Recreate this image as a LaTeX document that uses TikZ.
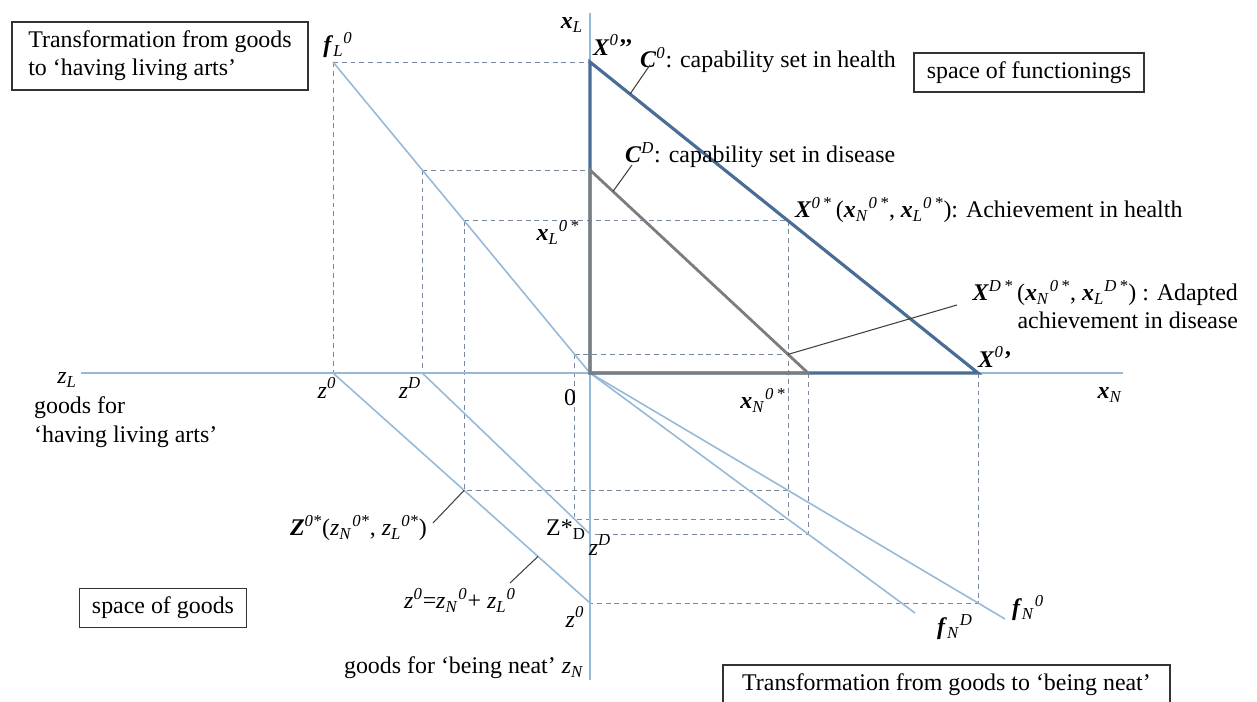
\documentclass[tikz,border=0pt]{standalone}
\usepackage{fontspec}
\setmainfont{Liberation Serif}
\usepackage{tikz}
\usetikzlibrary{calc}
\definecolor{capblue}{RGB}{72,110,150}
\definecolor{capgray}{RGB}{125,125,125}
\definecolor{axblue}{RGB}{150,185,215}
\definecolor{guidegray}{RGB}{120,135,155}
\newcommand{\bv}[1]{\textbf{\textit{#1}}}
\newcommand{\lsub}[1]{\textsubscript{\textit{#1}}}
\newcommand{\lsup}[1]{\textsuperscript{\textit{#1}}}

\begin{document}
\begin{tikzpicture}[
    axisline/.style={axblue, line width=0.9pt},
    thinline/.style={axblue, line width=0.9pt},
    guide/.style={guidegray, line width=0.5pt, dash pattern=on 2.8pt off 2.2pt},
    capzero/.style={capblue, line width=1.8pt},
    capdis/.style={capgray, line width=1.6pt},
    leader/.style={black!75, line width=0.6pt},
    lbl/.style={font=\fontsize{13.6}{16}\selectfont, inner sep=1pt},
    boxlbl/.style={lbl, draw=black!80, line width=0.8pt, inner sep=0pt}]
    \useasboundingbox (-11.8,-6.58) rectangle (13.34,7.46);

    % points of the construction
    \coordinate (O) at (0,0);
    \coordinate (X0pp) at (0,6.22);
    \coordinate (X0p) at (7.76,0);
    \coordinate (CDt) at (0,4.06);
    \coordinate (CDf) at (4.36,0);
    \coordinate (X0s) at (3.96,3.046);
    \coordinate (XDs) at (3.96,0.372);
    \coordinate (fL0) at (-5.14,6.22);
    \coordinate (z0h) at (-5.14,0);
    \coordinate (zDh) at (-3.355,0);
    \coordinate (zDt) at (-3.355,4.06);
    \coordinate (zst) at (-2.517,3.046);
    \coordinate (Z0s) at (-2.517,-2.347);
    \coordinate (zDst) at (-0.307,0.372);
    \coordinate (ZDs) at (-0.307,-2.925);
    \coordinate (z0v) at (0,-4.6);
    \coordinate (zDv) at (0,-3.22);
    \coordinate (N0s) at (3.96,-2.347);
    \coordinate (NDs) at (3.96,-2.925);
    \coordinate (NDf) at (4.36,-3.22);
    \coordinate (N0f) at (7.76,-4.6);
    \coordinate (fN0) at (8.3,-4.92);
    \coordinate (fND) at (6.5,-4.80);
    \coordinate (zLend) at (-10.18,0);
    \coordinate (xNend) at (10.66,0);
    \coordinate (xLend) at (0,7.2);
    \coordinate (zNend) at (0,-6.14);

    % dashed guides
    \draw[guide] (fL0) -- (X0pp);
    \draw[guide] (fL0) -- (z0h);
    \draw[guide] (zDt) -- (CDt);
    \draw[guide] (zDt) -- (zDh);
    \draw[guide] (zst) -- (X0s);
    \draw[guide] (zst) -- (Z0s) -- (N0s);
    \draw[guide] (X0s) -- (NDs);
    \draw[guide] (zDst) -- (XDs);
    \draw[guide] (zDst) -- (ZDs) -- (NDs);
    \draw[guide] (CDf) -- (NDf) -- (zDv);
    \draw[guide] (X0p) -- (N0f) -- (z0v);

    % transformation and budget lines
    \draw[thinline] (fL0) -- (O);
    \draw[thinline] (z0h) -- (z0v);
    \draw[thinline] (zDh) -- (zDv);
    \draw[thinline] (O) -- (fN0);
    \draw[thinline] (O) -- (fND);

    % axes
    \draw[axisline] (zLend) -- (xNend);
    \draw[axisline] (xLend) -- (zNend);

    % capability sets
    \draw[capzero] (X0pp) -- (O) -- (X0p) -- cycle;
    \draw[capdis] (CDt) -- (O) -- (CDf) -- cycle;

    % labels, functioning space
    \node[lbl] (xLlbl) at (-0.36,6.96) {\bv{x}\lsub{L}};
    \node[lbl] (X0pplbl) at (0.46,6.56) {\bv{X}\lsup{0}\textbf{’’}};
    \node[lbl, anchor=west] (C0lbl) at (0.96,6.26) {\bv{C}\lsup{0}: capability set in health};
    \node[lbl, anchor=west] (CDlbl) at (0.66,4.36) {\bv{C}\lsup{D}: capability set in disease};
    \node[lbl] (xL0lbl) at (-0.64,2.82) {\bv{x}\lsub{L}\lsup{0\,*}};
    \node[lbl, anchor=west] (X0slbl) at (4.06,3.26) {\bv{X}\lsup{0\,*}\,(\bv{x}\lsub{N}\lsup{0\,*}, \bv{x}\lsub{L}\lsup{0\,*}): Achievement in health};
    \node[lbl, anchor=north east, align=right] (XDslbl) at (13.0,1.9) {\bv{X}\lsup{D\,*}\,(\bv{x}\lsub{N}\lsup{0\,*}, \bv{x}\lsub{L}\lsup{D\,*}) : Adapted\\achievement in disease};
    \node[lbl] (X0plbl) at (8.1,0.32) {\bv{X}\lsup{0}\textbf{’}};
    \node[lbl] (xNlbl) at (10.4,-0.44) {\bv{x}\lsub{N}};
    \node[lbl] (xN0lbl) at (3.46,-0.54) {\bv{x}\lsub{N}\lsup{0\,*}};
    \node[lbl] (Olbl) at (-0.4,-0.5) {0};
    \node[boxlbl, minimum width=4.6cm, minimum height=0.78cm] (funcbox) at (8.78,6.01) {space of functionings};

    % labels, goods space
    \node[boxlbl, align=left, minimum width=5.92cm, minimum height=1.36cm] (topbox) at (-8.6,6.34) {Transformation from goods\\to ‘having living arts’};
    \node[lbl] (fL0lbl) at (-5.04,6.56) {\bv{f}\lsub{L}\lsup{0}};
    \node[lbl] (zLlbl) at (-10.46,-0.14) {\textit{z}\lsub{L}};
    \node[lbl, anchor=north west, align=left] (zLtxt) at (-11.16,-0.44) {goods for\\‘having living arts’};
    \node[lbl] (z0hlbl) at (-5.26,-0.3) {\textit{z}\lsup{0}};
    \node[lbl] (zDhlbl) at (-3.6,-0.3) {\textit{z}\lsup{D}};
    \node[lbl, anchor=east] (Z0slbl) at (-3.22,-3.1) {\bv{Z}\lsup{0*}(\textit{z}\lsub{N}\lsup{0*}, \textit{z}\lsub{L}\lsup{0*})};
    \node[lbl] (ZDslbl) at (-0.48,-3.14) {Z*\textsubscript{D}};
    \node[lbl] (zDvlbl) at (0.2,-3.44) {\textit{z}\lsup{D}};
    \node[lbl] (budlbl) at (-2.6,-4.54) {\textit{z}\lsup{0}=\textit{z}\lsub{N}\lsup{0}+ \textit{z}\lsub{L}\lsup{0}};
    \node[lbl] (z0vlbl) at (-0.3,-4.88) {\textit{z}\lsup{0}};
    \node[boxlbl, minimum width=3.34cm, minimum height=0.78cm] (goodbox) at (-8.54,-4.7) {space of goods};
    \node[lbl, anchor=east] (zNtxt) at (-0.08,-5.9) {goods for ‘being neat’ \textit{z}\lsub{N}};
    \node[lbl] (fNDlbl) at (7.3,-5.08) {\bv{f}\lsub{N}\lsup{D}};
    \node[lbl] (fN0lbl) at (8.76,-4.7) {\bv{f}\lsub{N}\lsup{0}};
    \node[boxlbl, minimum width=8.94cm, minimum height=0.78cm] (botbox) at (7.13,-6.23) {Transformation from goods to ‘being neat’};

    % leaders
    \coordinate (c0a) at (0.8,5.579);
    \coordinate (c0b) at (1.2,6.16);
    \coordinate (cDa) at (0.46,3.632);
    \coordinate (cDb) at (0.84,4.16);
    \coordinate (xDb) at (7.34,1.36);
    \coordinate (z0b) at (-3.14,-3.0);
    \coordinate (bga) at (-1.04,-3.669);
    \coordinate (bgb) at (-1.6,-4.2);
    \draw[leader] (c0a) -- (c0b);
    \draw[leader] (cDa) -- (cDb);
    \draw[leader] (XDs) -- (xDb);
    \draw[leader] (Z0s) -- (z0b);
    \draw[leader] (bga) -- (bgb);
\end{tikzpicture}
\end{document}
